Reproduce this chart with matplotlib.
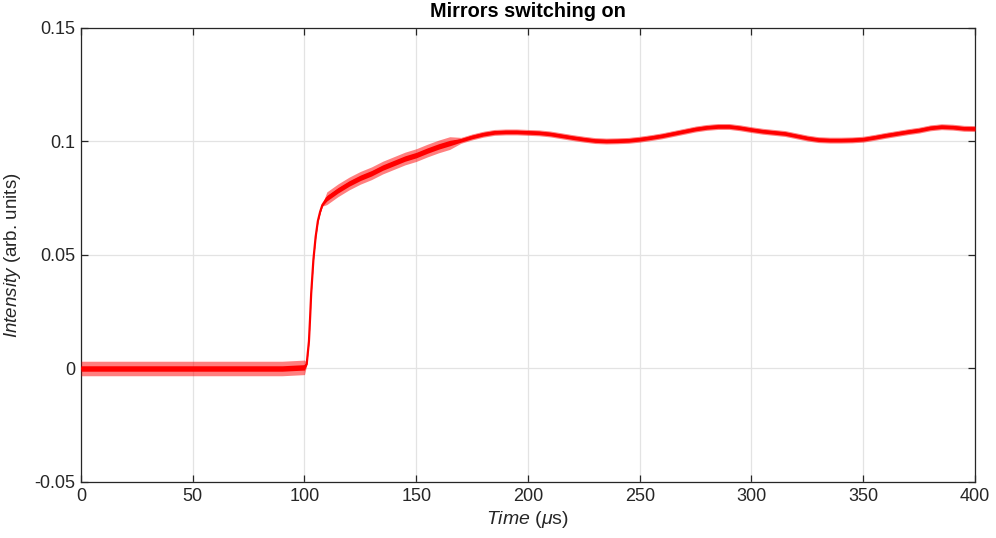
import numpy as np
import matplotlib
matplotlib.use("Agg")
import matplotlib.pyplot as plt

plt.rcParams['font.family'] = ['Liberation Sans', 'DejaVu Sans']
plt.rcParams['mathtext.fontset'] = 'custom'
plt.rcParams['mathtext.rm'] = 'Liberation Sans'
plt.rcParams['mathtext.it'] = 'Liberation Sans:italic'
plt.rcParams['mathtext.bf'] = 'Liberation Sans:bold'

# Measured trace: time (us), mean intensity, and noise half-width of the band
time_us = [0, 10, 20, 30, 40, 50, 60, 70, 80, 90, 100, 101, 102, 102.5, 103, 104,
           105, 106, 107, 108, 110, 115, 120, 125, 130, 135, 140, 145, 150, 155,
           160, 165, 170, 175, 180, 185, 190, 195, 200, 205, 210, 215, 220, 225,
           230, 235, 240, 245, 250, 255, 260, 265, 270, 275, 280, 285, 290, 295,
           300, 305, 310, 315, 320, 325, 330, 335, 340, 345, 350, 355, 360, 365,
           370, 375, 380, 385, 390, 395, 400]
intensity = [0.0, 0.0, 0.0, 0.0, 0.0, 0.0, 0.0, 0.0, 0.0, 0.0, 0.0005, 0.002, 0.012,
             0.022, 0.033, 0.048, 0.058, 0.065, 0.069, 0.072, 0.075, 0.0785, 0.0815,
             0.084, 0.086, 0.0885, 0.0905, 0.0925, 0.094, 0.096, 0.0978, 0.0993,
             0.1005, 0.102, 0.1032, 0.104, 0.1042, 0.1042, 0.104, 0.1038, 0.1033,
             0.1025, 0.1017, 0.101, 0.1004, 0.1002, 0.1003, 0.1005, 0.101, 0.1017,
             0.1025, 0.1035, 0.1045, 0.1055, 0.1062, 0.1066, 0.1066, 0.106, 0.1052,
             0.1045, 0.104, 0.1035, 0.1025, 0.1015, 0.1008, 0.1006, 0.1006, 0.1007,
             0.101, 0.1018, 0.1027, 0.1035, 0.1043, 0.105, 0.106, 0.1065, 0.1063,
             0.1058, 0.1057]
noise_core = [0.0012] * 11 + [0.0004] * 9 + [0.0012] * 12 + [0.0008] * 47
noise_spike = [0.0032] * 11 + [0.0005] * 9 + [0.0028] * 12 + [0.0013] * 47

x_ticks = [0, 50, 100, 150, 200, 250, 300, 350, 400]
y_ticks = [-0.05, 0, 0.05, 0.1, 0.15]
y_tick_labels = ['-0.05', '0', '0.05', '0.1', '0.15']

t = np.array(time_us)
y = np.array(intensity)
core = np.array(noise_core)
spike = np.array(noise_spike)

fig = plt.figure(figsize=(9.96, 5.38), dpi=100)
ax = fig.add_axes([0.0813, 0.1041, 0.8976, 0.8439])

red = '#ff0000'
ax.fill_between(t, y - spike, y + spike, color=red, alpha=0.5, lw=0, zorder=3)
ax.fill_between(t, y - core, y + core, color=red, lw=0, zorder=4)
ax.plot(t, y, color=red, lw=1.6, zorder=5)

ax.set_xlim(0, 400)
ax.set_ylim(-0.05, 0.15)
ax.set_xticks(x_ticks)
ax.set_yticks(y_ticks)
ax.set_yticklabels(y_tick_labels)

ax.grid(True, color='#e3e3e3', lw=0.9)
ax.set_axisbelow(True)
edge = '#262626'
for s in ax.spines.values():
    s.set_color(edge)
    s.set_linewidth(0.9)
ax.tick_params(direction='in', length=5, width=0.9, color=edge, labelcolor=edge,
               labelsize=13, top=True, right=True, pad=4)

ax.set_title('Mirrors switching on', fontsize=14.3, fontweight='bold', pad=8)
ax.set_xlabel(r'$\mathit{Time}$ ($\mu$s)', fontsize=14, color=edge, labelpad=3)
ax.set_ylabel(r'$\mathit{Intensity}$ (arb. units)', fontsize=13.5, color=edge, labelpad=8)

fig.savefig('out.png', dpi=100)
